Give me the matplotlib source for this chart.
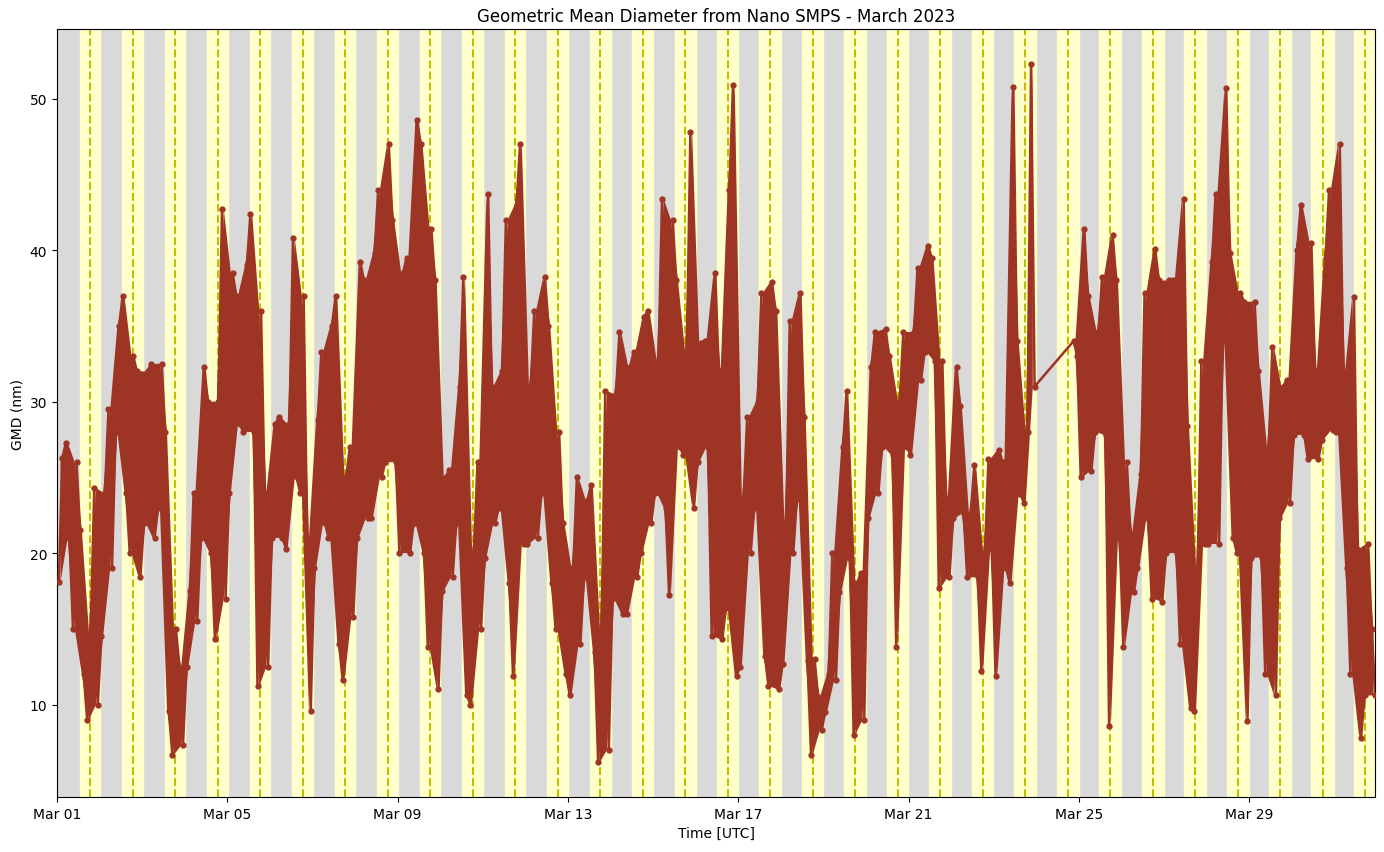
import numpy as np
import matplotlib
matplotlib.use("Agg")
from matplotlib import pyplot as plt
import matplotlib.dates as mdates

nan = np.nan

# GMD: low / high value in each 4-hour block, one row per day (Mar 01 .. Mar 31)
gmd_lo = [
    [18.1, 21.0, 15.0, 12.0, 9.0, 10.0],
    [14.5, 19.0, 28.0, 24.0, 20.0, 18.4],
    [22.0, 21.0, 23.0, 9.6, 6.7, 7.3],
    [12.5, 15.5, 21.0, 20.0, 14.3, 17.0],
    [24.0, 28.5, 28.0, 28.0, 11.2, 12.5],
    [21.0, 21.0, 20.3, 25.0, 24.0, 9.6],
    [19.0, 22.0, 21.0, 14.0, 11.6, 15.8],
    [21.0, 22.3, 22.3, 25.0, 26.0, 26.0],
    [20.0, 20.0, 22.0, 20.0, 13.8, 11.0],
    [17.5, 18.4, 22.0, 10.6, 10.0, 15.0],
    [19.7, 22.0, 23.0, 18.0, 11.9, 20.6],
    [20.6, 21.0, 24.0, 18.0, 15.0, 12.0],
    [10.6, 14.0, 18.4, 13.5, 6.2, 7.0],
    [17.0, 16.0, 16.0, 18.4, 20.0, 22.0],
    [24.0, 23.0, 17.2, 27.0, 26.5, 23.0],
    [26.0, 27.0, 14.5, 14.3, 16.4, 11.9],
    [12.5, 20.0, 23.0, 13.2, 11.2, 11.0],
    [12.7, 20.0, 23.6, 12.9, 6.7, 8.3],
    [9.5, 11.6, 17.4, 19.7, 8.0, 9.0],
    [22.3, 24.0, 27.0, 26.5, 13.8, 27.0],
    [26.5, 31.4, 33.3, 32.7, 17.7, 18.4],
    [22.3, 22.6, 18.4, 18.4, 12.2, 20.3],
    [11.9, 19.0, 18.0, 23.9, 23.3, 31.0],
    [nan, nan, nan, nan, nan, 33.0],
    [25.0, 25.4, 28.0, 27.8, 8.6, 21.0],
    [13.8, 17.4, 19.0, 22.3, 17.0, 16.8],
    [20.0, 20.0, 14.0, 9.8, 9.6, 20.6],
    [20.6, 20.6, 34.0, 21.0, 20.0, 8.9],
    [19.7, 19.7, 12.0, 10.6, 22.3, 23.3],
    [27.8, 27.8, 26.2, 26.2, 27.5, 28.1],
    [28.0, 19.0, 12.0, 7.8, 10.6, 10.6],
]

gmd_hi = [
    [26.3, 27.3, 26.0, 21.5, 14.8, 24.3],
    [24.0, 29.5, 35.0, 37.0, 33.0, 32.0],
    [32.0, 32.5, 32.5, 28.0, 15.0, 12.5],
    [17.5, 24.0, 32.3, 30.0, 30.0, 42.7],
    [38.5, 37.0, 39.0, 42.4, 36.0, 24.0],
    [28.5, 29.0, 28.5, 40.8, 37.0, 21.0],
    [28.8, 33.3, 35.0, 37.0, 25.0, 27.0],
    [39.2, 38.0, 39.8, 44.0, 47.0, 42.0],
    [38.5, 39.5, 48.6, 47.0, 41.4, 38.0],
    [25.0, 25.5, 31.0, 38.2, 20.0, 26.0],
    [43.7, 31.0, 32.0, 42.0, 43.0, 47.0],
    [31.0, 36.0, 38.2, 35.0, 28.0, 22.0],
    [19.0, 25.0, 23.5, 24.5, 15.0, 30.7],
    [30.5, 34.6, 32.3, 33.3, 35.6, 36.0],
    [32.7, 43.4, 42.0, 38.0, 33.3, 47.8],
    [33.9, 34.0, 38.5, 32.0, 44.0, 50.9],
    [23.6, 29.0, 30.0, 37.2, 37.9, 36.0],
    [22.0, 35.3, 37.2, 29.0, 13.0, 10.5],
    [12.0, 20.0, 27.0, 30.7, 18.0, 18.7],
    [32.3, 34.6, 34.8, 33.0, 30.0, 34.6],
    [34.6, 38.8, 40.3, 39.5, 32.7, 23.6],
    [32.3, 29.7, 22.6, 25.8, 20.0, 26.2],
    [26.8, 26.0, 50.8, 34.0, 28.0, 52.3],
    [nan, nan, nan, nan, nan, 34.0],
    [41.4, 37.0, 34.6, 38.2, 41.0, 38.0],
    [26.0, 21.3, 25.2, 37.2, 40.1, 38.0],
    [38.0, 38.0, 43.4, 28.4, 19.0, 32.7],
    [39.2, 43.7, 50.7, 39.8, 37.2, 36.6],
    [36.6, 32.0, 27.0, 33.6, 31.0, 31.4],
    [40.0, 43.0, 40.5, 32.0, 39.5, 44.0],
    [47.0, 32.0, 36.9, 20.3, 20.6, 15.0],
]

# daylight window per day, hours UTC (sunset past midnight > 24)
sunrise_h = [12.95, 12.9, 12.85, 12.8, 12.75, 12.7, 12.65, 12.55, 12.5, 12.45, 12.4,
             12.3, 12.25, 12.2, 12.15, 12.0, 11.9, 11.85, 11.75, 11.7, 11.65, 11.6,
             11.55, 11.5, 11.45, 11.4, 11.35, 11.3, 11.1, 11.0, 10.95]
sunset_h = [24.25, 24.25, 24.2, 24.2, 24.15, 24.15, 24.1, 24.1, 24.1, 24.05, 24.05,
            24.0, 24.0, 24.0, 23.95, 23.9, 23.9, 23.85, 23.85, 23.85, 23.8, 23.8,
            23.8, 23.8, 23.75, 23.75, 23.7, 23.7, 23.65, 23.7, 23.7]

START = np.datetime64("2023-03-01T00:00")
HOUR = np.timedelta64(1, "h")
LINE_COLOR = "#9e3423"


def build_series():
    '''
        Flatten the 4-hour blocks into a time series, alternating
        low/high order so the trace zigzags through each block
    '''
    lo = np.array(gmd_lo).ravel()
    hi = np.array(gmd_hi).ravel()
    times, vals = [], []
    for k in range(len(lo)):
        if np.isnan(lo[k]):
            continue
        t0 = START + k * 4 * HOUR
        pair = (lo[k], hi[k]) if k % 2 == 0 else (hi[k], lo[k])
        times += [t0 + 1 * HOUR, t0 + 3 * HOUR]
        vals += list(pair)
    return np.array(times), np.array(vals)


times, gmd = build_series()

# block centres with low/high range; NaNs kept so the band breaks over the missing day
env_lo = np.array(gmd_lo).ravel()
env_hi = np.array(gmd_hi).ravel()
env_t = START + (np.arange(len(env_lo)) * 4 + 2) * HOUR

fig = plt.figure(figsize=(13.84, 8.53), dpi=100)
ax = fig.add_axes([0.0412, 0.0645, 0.9523, 0.9003])
ax.set_facecolor("#d9d9d9")

for d in range(len(sunrise_h)):
    day = START + np.timedelta64(d, "D")
    t_rise = day + np.timedelta64(int(sunrise_h[d] * 60), "m")
    t_set = day + np.timedelta64(int(sunset_h[d] * 60), "m")
    t_noon = day + np.timedelta64(int((sunrise_h[d] + sunset_h[d]) / 2 * 60), "m")
    ax.axvspan(t_rise, t_set, color="#ffffcc", zorder=0)
    ax.axvline(t_noon, color="y", linestyle="--", linewidth=1.5, zorder=1)

# dense scan-to-scan scatter shows up as a solid band between the block low and high
ax.fill_between(env_t, env_lo, env_hi, color=LINE_COLOR, linewidth=0, zorder=2)
ax.plot(times, gmd, "-o", color=LINE_COLOR, linewidth=1.8, markersize=3.5, zorder=3)

ax.set_xlim(START, np.datetime64("2023-03-31T22:52"))
ax.xaxis.set_major_locator(mdates.DayLocator(bymonthday=range(1, 32, 4)))
ax.xaxis.set_major_formatter(mdates.DateFormatter("%b %d"))

ax.set_title("Geometric Mean Diameter from Nano SMPS - March 2023")
ax.set_xlabel("Time [UTC]")
ax.set_ylabel("GMD (nm)")

fig.savefig("out.png", dpi=100)
